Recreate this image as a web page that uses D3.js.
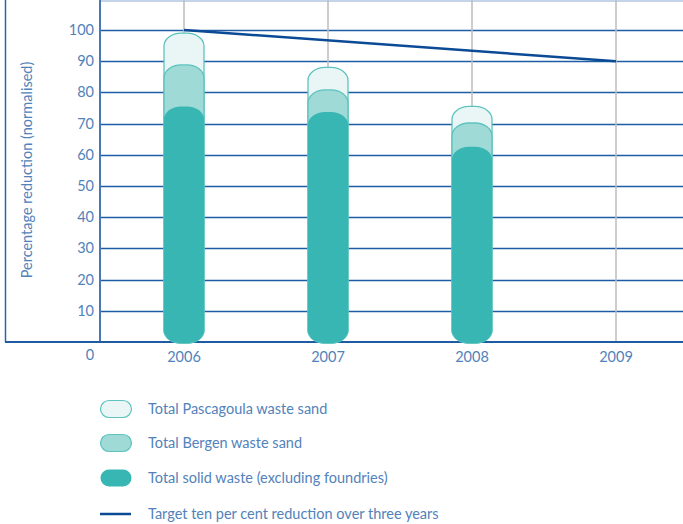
<!DOCTYPE html>
<html>
<head>
<meta charset="utf-8">
<script src="https://cdnjs.cloudflare.com/ajax/libs/d3/7.8.5/d3.min.js"></script>
<style>
  body { margin: 0; background: #fff; }
  svg text { font-family: "Lato", "Open Sans", sans-serif; }
</style>
</head>
<body>
<div id="chart"></div>
<script>
var years = ["2006", "2007", "2008", "2009"];
var pascagoula = [99, 88, 75.5, null];   // top of light cap
var bergen = [88.8, 80.8, 70.2, null];
var solidWaste = [75.5, 73.7, 62.6, null];
var target = [100, null, null, 90];
var yTicks = [10, 20, 30, 40, 50, 60, 70, 80, 90, 100];

var legendItems = [
    {label: "Total Pascagoula waste sand", type: "p"},
    {label: "Total Bergen waste sand", type: "b"},
    {label: "Total solid waste (excluding foundries)", type: "s"},
    {label: "Target ten per cent reduction over three years", type: "line"}
];

var W = 683, H = 524;
var axisX = 100, bottomY = 342;
var fontSize = "14.5px";

var svg = d3.select("#chart").append("svg")
    .attr("width", W).attr("height", H);

var x = d3.scalePoint()
    .domain(years)
    .range([184, 616]);

var y = d3.scaleLinear()
    .domain([0, 100])
    .range([bottomY, 30]);

var gridColor = "#1f5ca6";
var labelColor = "#5282ba";

// top faint line
svg.append("line")
    .attr("x1", axisX).attr("x2", W).attr("y1", 1).attr("y2", 1)
    .style("stroke", "#8aaad3").style("stroke-width", 1);

// horizontal grid
svg.append("g").selectAll("line")
    .data(yTicks)
    .enter().append("line")
    .attr("x1", axisX).attr("x2", W)
    .attr("y1", function (d) { return Math.round(y(d)) + 0.5; })
    .attr("y2", function (d) { return Math.round(y(d)) + 0.5; })
    .style("stroke", gridColor)
    .style("stroke-width", 1.4);

// vertical year lines
svg.append("g").selectAll("line")
    .data(years)
    .enter().append("line")
    .attr("x1", function (d) { return x(d); })
    .attr("x2", function (d) { return x(d); })
    .attr("y1", 0).attr("y2", bottomY)
    .style("stroke", "#bdbdbd")
    .style("stroke-width", 1.5);

// frame
svg.append("line")
    .attr("x1", 5.5).attr("x2", 5.5).attr("y1", 0).attr("y2", bottomY)
    .style("stroke", "#2b64aa").style("stroke-width", 1.5);
svg.append("line")
    .attr("x1", axisX).attr("x2", axisX).attr("y1", 0).attr("y2", bottomY)
    .style("stroke", "#4a78b3").style("stroke-width", 2);
svg.append("line")
    .attr("x1", 5).attr("x2", W).attr("y1", bottomY).attr("y2", bottomY)
    .style("stroke", "#1f5ba3").style("stroke-width", 2);

// bars: full rounded shapes from 0 to value, drawn back to front
var barW = 40;
var layers = [
    {values: pascagoula, fill: "#eaf6f6", stroke: "#5cc3be"},
    {values: bergen, fill: "#9fdad7", stroke: "#5cc3be"},
    {values: solidWaste, fill: "#37b6b3", stroke: "none"}
];

layers.forEach(function (layer) {
    var data = years.map(function (yr, i) {
        return {year: yr, value: layer.values[i]};
    }).filter(function (d) { return d.value != null; });

    svg.append("g").selectAll("rect")
        .data(data)
        .enter().append("rect")
        .attr("x", function (d) { return x(d.year) - barW / 2; })
        .attr("y", function (d) { return y(d.value); })
        .attr("width", barW)
        .attr("height", function (d) { return bottomY + 1 - y(d.value); })
        .attr("rx", 17).attr("ry", 13)
        .style("fill", layer.fill)
        .style("stroke", layer.stroke)
        .style("stroke-width", 1.3);
});

// target line
var targetPts = years.map(function (yr, i) {
    return {year: yr, value: target[i]};
}).filter(function (d) { return d.value != null; });

svg.append("path")
    .datum(targetPts)
    .attr("d", d3.line()
        .x(function (d) { return x(d.year); })
        .y(function (d) { return y(d.value); }))
    .style("fill", "none")
    .style("stroke", "#0b4a95")
    .style("stroke-width", 2.5);

// y tick labels
svg.append("g").selectAll("text")
    .data(yTicks)
    .enter().append("text")
    .attr("x", 94)
    .attr("y", function (d) { return y(d) + 5; })
    .attr("text-anchor", "end")
    .style("font-size", fontSize)
    .style("fill", labelColor)
    .text(function (d) { return d; });

svg.append("text")
    .attr("x", 90).attr("y", 360)
    .attr("text-anchor", "middle")
    .style("font-size", fontSize)
    .style("fill", labelColor)
    .text("0");

// x labels
svg.append("g").selectAll("text")
    .data(years)
    .enter().append("text")
    .attr("x", function (d) { return x(d); })
    .attr("y", 362)
    .attr("text-anchor", "middle")
    .style("font-size", fontSize)
    .style("fill", labelColor)
    .text(function (d) { return d; });

// y axis title
svg.append("text")
    .attr("transform", "translate(32,170) rotate(-90)")
    .attr("text-anchor", "middle")
    .style("font-size", fontSize)
    .style("fill", labelColor)
    .text("Percentage reduction (normalised)");

// legend
var legendY = [409, 443, 478, 514];
var legend = svg.append("g").selectAll("g")
    .data(legendItems)
    .enter().append("g")
    .attr("transform", function (d, i) { return "translate(100," + legendY[i] + ")"; });

legend.each(function (d) {
    var g = d3.select(this);
    if (d.type === "line") {
        g.append("line")
            .attr("x1", 0).attr("x2", 31).attr("y1", 0).attr("y2", 0)
            .style("stroke", "#0b4a95").style("stroke-width", 2.5);
    } else {
        var st = {p: layers[0], b: layers[1], s: layers[2]}[d.type];
        g.append("rect")
            .attr("x", 0.5).attr("y", -8.5)
            .attr("width", 31).attr("height", 17)
            .attr("rx", 8.5)
            .style("fill", st.fill)
            .style("stroke", st.stroke)
            .style("stroke-width", 1.2);
    }
    g.append("text")
        .attr("x", 48).attr("y", 5)
        .style("font-size", fontSize)
        .style("fill", labelColor)
        .text(d.label);
});
</script>
</body>
</html>
